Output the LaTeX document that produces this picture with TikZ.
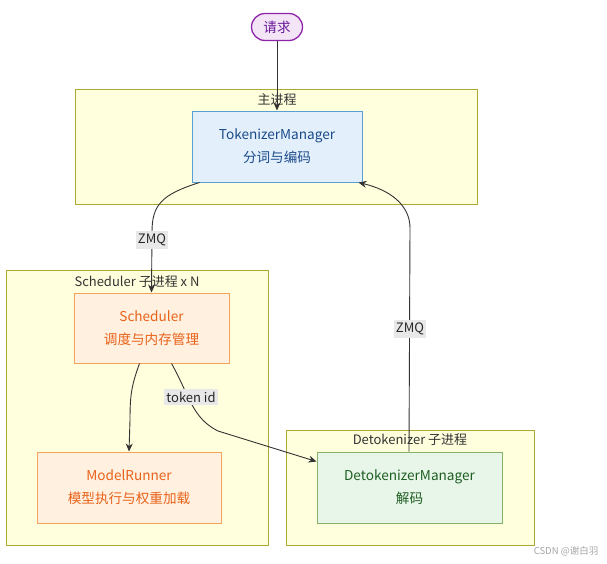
\documentclass[tikz,border=0pt]{standalone}
\usepackage{fontspec}
\setmainfont{Noto Sans CJK SC}
\usetikzlibrary{shapes.misc,arrows.meta,calc}
\definecolor{clfill}{HTML}{FFFFDE}
\definecolor{cldraw}{HTML}{AAAA33}
\definecolor{tmfill}{HTML}{E3F0FB}
\definecolor{tmdraw}{HTML}{5A9FD4}
\definecolor{tmtext}{HTML}{1A4A8A}
\definecolor{scfill}{HTML}{FFF0DF}
\definecolor{scdraw}{HTML}{F5A35A}
\definecolor{sctext}{HTML}{E8621A}
\definecolor{dmfill}{HTML}{E8F5E9}
\definecolor{dmdraw}{HTML}{82B366}
\definecolor{dmtext}{HTML}{1E5E22}
\definecolor{rqfill}{HTML}{F3E5F5}
\definecolor{rqdraw}{HTML}{8E24AA}
\definecolor{rqtext}{HTML}{6A1B9A}
\definecolor{edge}{HTML}{333333}
\definecolor{lblbg}{HTML}{E8E8E8}
\tikzset{
  cluster/.style={draw=cldraw, fill=clfill, line width=0.8pt, inner sep=0pt},
  cltitle/.style={font=\fontsize{13}{15}\selectfont, text=black!80},
  procbox/.style={line width=1pt, align=center, inner sep=0pt, font=\fontsize{13.6}{23}\selectfont},
  conn/.style={draw=edge, line width=0.9pt, -{Stealth[length=8pt,width=7pt]}},
  elabel/.style={fill=lblbg, inner xsep=2pt, inner ysep=3pt, text=black!85, font=\fontsize{13}{15}\selectfont},
}
\begin{document}
\begin{tikzpicture}[x=1pt,y=-1pt]
\useasboundingbox (0,0) rectangle (607,563);
\fill[white] (0,0) rectangle (607,563);
% clusters
\node[cluster, minimum width=402pt, minimum height=115pt] (cmain) at (276,146.5) {};
\node[cltitle] (tmain) at (277,100) {主进程};
\node[cluster, minimum width=262pt, minimum height=275pt] (csched) at (137,407.5) {};
\node[cltitle] (tsched) at (137,282) {Scheduler 子进程 x N};
\node[cluster, minimum width=248pt, minimum height=115pt] (cdet) at (410,487.5) {};
\node[cltitle] (tdet) at (410,440) {Detokenizer 子进程};
% nodes
\node[rounded rectangle, draw=rqdraw, fill=rqfill, text=rqtext, line width=1.3pt, minimum width=51pt, minimum height=27pt, inner sep=0pt, font=\fontsize{13.6}{15}\selectfont] (rq) at (277,27) {请求};
\node[procbox, draw=tmdraw, fill=tmfill, text=tmtext, minimum width=170pt, minimum height=71pt] (tm) at (277,146.5) {TokenizerManager\\分词与编码};
\node[procbox, draw=scdraw, fill=scfill, text=sctext, minimum width=155pt, minimum height=70pt] (sc) at (151.5,328) {Scheduler\\调度与内存管理};
\node[procbox, draw=scdraw, fill=scfill, text=sctext, minimum width=184pt, minimum height=71pt] (mr) at (129,487.5) {ModelRunner\\模型执行与权重加载};
\node[procbox, draw=dmdraw, fill=dmfill, text=dmtext, minimum width=185pt, minimum height=71pt] (dm) at (409.5,487.5) {DetokenizerManager\\解码};
% edges
\draw[conn] (rq.south) -- (tm.north);
\draw[conn] ($(tm.south west)+(8,0)$) .. controls +(-38,12) and (152,205) .. (152,232) -- (sc.north);
\node[elabel] (z1) at (152,240) {ZMQ};
\draw[conn] ($(sc.south west)+(66,0)$) .. controls +(-8,22) and (130,395) .. (130,420) -- (mr.north);
\draw[conn] ($(sc.south west)+(98,0)$) .. controls +(18,32) and (192,418) .. (218,431) -- ($(dm.north west)+(0,10)$);
\node[elabel] (tk) at (191,397) {token id};
\draw[conn] ($(dm.north west)+(92.5,0)$) -- (410,228) .. controls (410,205) and (390,190) .. ($(tm.south east)+(-4,0)$);
\node[elabel] (z2) at (410,329) {ZMQ};
\node[text=black!35, font=\fontsize{9.5}{11}\selectfont] (wm) at (566,551) {CSDN @谢白羽};
\end{tikzpicture}
\end{document}
